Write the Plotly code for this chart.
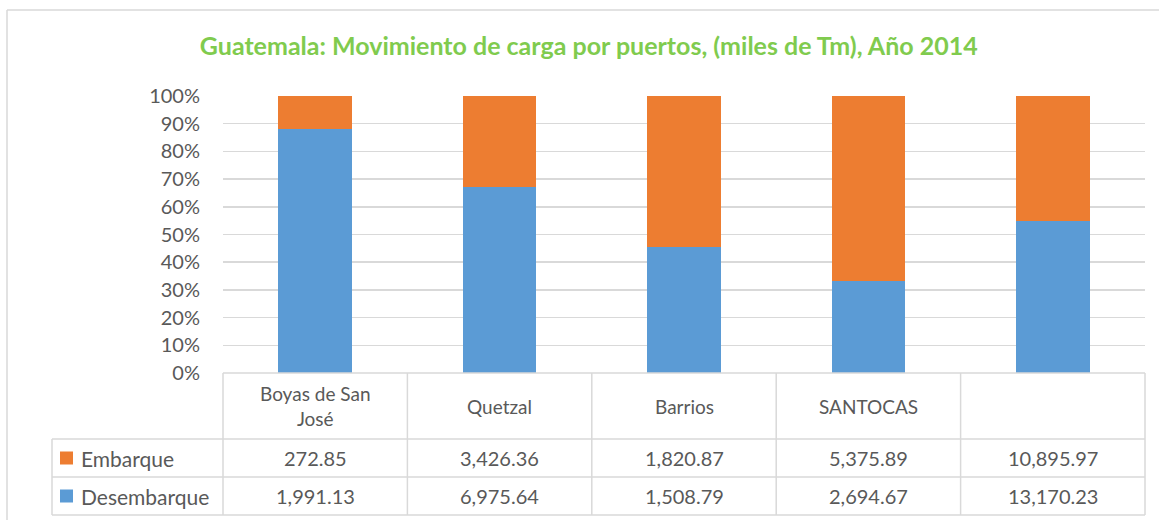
import textwrap
import plotly.graph_objects as go

# ---------------- data ----------------
categories = ["Boyas de San José", "Quetzal", "Barrios", "SANTOCAS", ""]
embarque = [272.85, 3426.36, 1820.87, 5375.89, 10895.97]
desembarque = [1991.13, 6975.64, 1508.79, 2694.67, 13170.23]
series_names = ["Embarque", "Desembarque"]
title_text = "Guatemala: Movimiento de carga por puertos, (miles de Tm), Año 2014"
y_ticks = [0, 10, 20, 30, 40, 50, 60, 70, 80, 90, 100]

# ---------------- style ----------------
W, H = 1159, 520
ORANGE = "#ED7D31"
BLUE = "#5B9BD5"
GRID = "#D9D9D9"
TEXT = "#595959"
FONT = "Lato, 'Open Sans', sans-serif"

PLOT_L, PLOT_R = 223, 1145
PLOT_T, PLOT_B = 96, 373
ROW_Y = [373, 439, 477, 515]
TABLE_L = 52

def px(x):
    return x / W

def py(y):
    return 1 - y / H

fig = go.Figure()
x_idx = list(range(len(categories)))
fig.add_trace(go.Bar(x=x_idx, y=desembarque, name=series_names[1],
                     marker=dict(color=BLUE, line=dict(width=0)), width=0.4,
                     hoverinfo="skip"))
fig.add_trace(go.Bar(x=x_idx, y=embarque, name=series_names[0],
                     marker=dict(color=ORANGE, line=dict(width=0)), width=0.4,
                     hoverinfo="skip"))

shapes = []
annotations = []

def line(x0, y0, x1, y1, color=GRID, w=1.5):
    shapes.append(dict(type="line", xref="paper", yref="paper",
                       x0=px(x0), y0=py(y0), x1=px(x1), y1=py(y1),
                       line=dict(color=color, width=w)))

# outer chart border
line(7, 10, 7, H)
line(7, 10, W, 10)

# table
n = len(categories)
cw = (PLOT_R - PLOT_L) / n
line(PLOT_L, ROW_Y[0], PLOT_R, ROW_Y[0])
for y in ROW_Y[1:]:
    line(TABLE_L, y, PLOT_R, y)
for i in range(n + 1):
    xv = PLOT_L + i * cw
    line(xv, ROW_Y[0], xv, ROW_Y[3])
line(TABLE_L, ROW_Y[1], TABLE_L, ROW_Y[3])

# header text
for i, c in enumerate(categories):
    if not c:
        continue
    txt = "<br>".join(textwrap.wrap(c, 12))
    annotations.append(dict(x=px(PLOT_L + (i + 0.5) * cw), y=py((ROW_Y[0] + ROW_Y[1]) / 2),
                            xref="paper", yref="paper", text=txt, showarrow=False,
                            font=dict(family=FONT, size=19, color=TEXT),
                            xanchor="center", yanchor="middle"))

def fmt(v):
    return f"{v:,.2f}"

rows = [(series_names[0], embarque, ORANGE), (series_names[1], desembarque, BLUE)]
for r, (name, vals, col) in enumerate(rows):
    yc = (ROW_Y[r + 1] + ROW_Y[r + 2]) / 2
    shapes.append(dict(type="rect", xref="paper", yref="paper",
                       x0=px(60), x1=px(73), y0=py(yc - 6.5), y1=py(yc + 6.5),
                       fillcolor=col, line=dict(width=0)))
    annotations.append(dict(x=px(79), y=py(yc), xref="paper", yref="paper",
                            text=name, showarrow=False, xanchor="left", yanchor="middle",
                            font=dict(family=FONT, size=21, color=TEXT)))
    for i, v in enumerate(vals):
        annotations.append(dict(x=px(PLOT_L + (i + 0.5) * cw), y=py(yc),
                                xref="paper", yref="paper", text=fmt(v), showarrow=False,
                                xanchor="center", yanchor="middle",
                                font=dict(family=FONT, size=20, color=TEXT)))

fig.update_layout(
    width=W, height=H,
    margin=dict(l=0, r=0, t=0, b=0, pad=0, autoexpand=False),
    paper_bgcolor="white", plot_bgcolor="white",
    barmode="stack", barnorm="percent",
    showlegend=False,
    title=dict(text=title_text, x=0.508, xanchor="center", y=py(46), yanchor="middle",
               font=dict(family=FONT, size=25, color="#80CB4E", weight="bold")),
    xaxis=dict(domain=[px(PLOT_L), px(PLOT_R)], range=[-0.5, n - 0.5],
               showticklabels=False, showgrid=False, zeroline=False, showline=False,
               fixedrange=True, automargin=False),
    yaxis=dict(domain=[py(PLOT_B), py(PLOT_T)], range=[0, 100],
               tickvals=y_ticks, ticktext=[f"{t}%" for t in y_ticks],
               showgrid=True, gridcolor=GRID, gridwidth=1.5, zeroline=False,
               showline=False, ticks="", ticklabelstandoff=22, automargin=False,
               fixedrange=True,
               tickfont=dict(family=FONT, size=20, color=TEXT)),
    shapes=shapes, annotations=annotations,
    bargap=0.6,
)

fig.write_html("out.html", config={"displayModeBar": False, "staticPlot": True},
               post_script="document.body.style.margin='0';document.body.style.overflow='hidden';")
